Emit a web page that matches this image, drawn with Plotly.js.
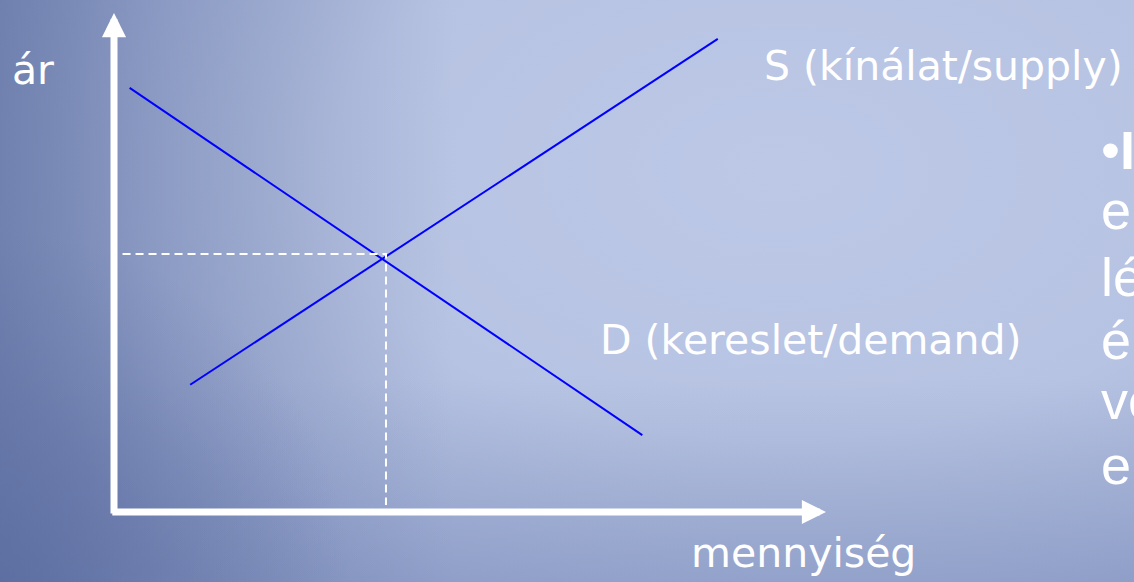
<!DOCTYPE html>
<html>
<head>
<meta charset="utf-8">
<script src="https://cdn.plot.ly/plotly-3.0.1.min.js"></script>
<style>
    html, body { margin: 0; padding: 0; }
    #grafikon {
        width: 1134px;
        height: 582px;
        background:
            radial-gradient(circle 350px at 0px 582px, rgba(84,101,154,0.55), rgba(84,101,154,0) 100%),
            linear-gradient(to right, rgba(96,114,163,0.75) 0%, rgba(96,114,163,0.4) 15%, rgba(96,114,163,0) 40%),
            linear-gradient(to top, rgba(120,138,184,0.45) 0%, rgba(120,138,184,0) 35%),
            radial-gradient(ellipse 1000px 600px at 780px 170px, #bcc8e6 0%, #b7c3e2 45%, #a8b5d9 70%, #8f9ecb 100%);
    }
</style>
</head>
<body>
<div id="grafikon"></div>
<script>
// Kínálat (S) és kereslet (D) görbék végpontjai
const kinalatMennyiseg = [1.07, 8.48];
const kinalatAr = [2.55, 9.48];
const keresletMennyiseg = [0.22, 7.42];
const keresletAr = [8.50, 1.54];

// Egyensúlyi pont (szaggatott vonal a tengelyekig)
const egyensulyMennyiseg = [0.12, 3.82, 3.82];
const egyensulyAr = [5.17, 5.17, 0.14];

// Tengelyek hossza
const tengelyMennyiseg = [-0.045, 10];
const tengelyAr = [-0.06, 10];

// Jobb oldali, levágott felsorolás sorai
const felsorolas = ['•<b>I</b>', 'e', 'lé', 'é', 've', 'e'];
const felsorolasY = [169, 229, 296, 359, 419, 484];

class Grafikon {
    constructor(etiqueta) {
        this.etiqueta = etiqueta;
        this.szel = 1134;
        this.mag = 582;
    }

    // pixel -> papír koordináta
    px(x) { return x / this.szel; }
    py(y) { return 1 - y / this.mag; }

    felirat(szoveg, x, alapvonal, meret, csalad) {
        return {
            text: szoveg,
            xref: 'paper', yref: 'paper',
            x: this.px(x),
            y: this.py(alapvonal - 0.35 * meret),
            xanchor: 'left', yanchor: 'middle',
            showarrow: false,
            font: { family: csalad, size: meret, color: '#ffffff' }
        };
    }

    nyil(x0, y0, x1, y1) {
        return {
            text: '',
            x: x1, y: y1, ax: x0, ay: y0,
            xref: 'x', yref: 'y', axref: 'x', ayref: 'y',
            showarrow: true,
            arrowhead: 2, arrowsize: 0.69, arrowwidth: 7,
            arrowcolor: '#ffffff',
            standoff: 0, startstandoff: 0,
            font: { size: 1 }
        };
    }

    KinalatKereslet() {
        const kinalat = {
            x: kinalatMennyiseg,
            y: kinalatAr,
            mode: 'lines',
            type: 'scatter',
            line: { color: '#0000ff', width: 2 },
            name: 'S'
        };
        const kereslet = {
            x: keresletMennyiseg,
            y: keresletAr,
            mode: 'lines',
            type: 'scatter',
            line: { color: '#0000ff', width: 2 },
            name: 'D'
        };
        const egyensuly = {
            x: egyensulyMennyiseg,
            y: egyensulyAr,
            mode: 'lines',
            type: 'scatter',
            line: { color: '#ffffff', width: 2, dash: '8px,5px' },
            name: 'egyensúly'
        };

        const feliratok = [
            this.nyil(0, tengelyAr[0], 0, tengelyAr[1]),
            this.nyil(tengelyMennyiseg[0], 0, tengelyMennyiseg[1], 0),
            this.felirat('ár', 10, 84, 41, 'DejaVu Sans'),
            this.felirat('S (kínálat/supply)', 762, 80, 41, 'DejaVu Sans'),
            this.felirat('D (kereslet/demand)', 598, 354, 41, 'DejaVu Sans'),
            this.felirat('mennyiség', 689, 567, 41, 'DejaVu Sans')
        ];
        felsorolas.forEach((sor, i) => {
            feliratok.push(this.felirat(sor, 1099, felsorolasY[i], 54, 'Liberation Sans'));
        });

        // 0 mennyiség a 114. pixelnél, 10 egység = 712 px; 0 ár az 512. pixelnél, 10 egység = 499 px
        const layout = {
            width: this.szel,
            height: this.mag,
            margin: { l: 0, r: 0, t: 0, b: 0 },
            paper_bgcolor: 'rgba(0,0,0,0)',
            plot_bgcolor: 'rgba(0,0,0,0)',
            showlegend: false,
            xaxis: { range: [-114 / 71.2, 1020 / 71.2], visible: false, fixedrange: true },
            yaxis: { range: [-70 / 49.9, 512 / 49.9], visible: false, fixedrange: true },
            annotations: feliratok
        };

        Plotly.newPlot(this.etiqueta, [kinalat, kereslet, egyensuly], layout, { staticPlot: true });
    }
}

new Grafikon('grafikon').KinalatKereslet();
</script>
</body>
</html>
